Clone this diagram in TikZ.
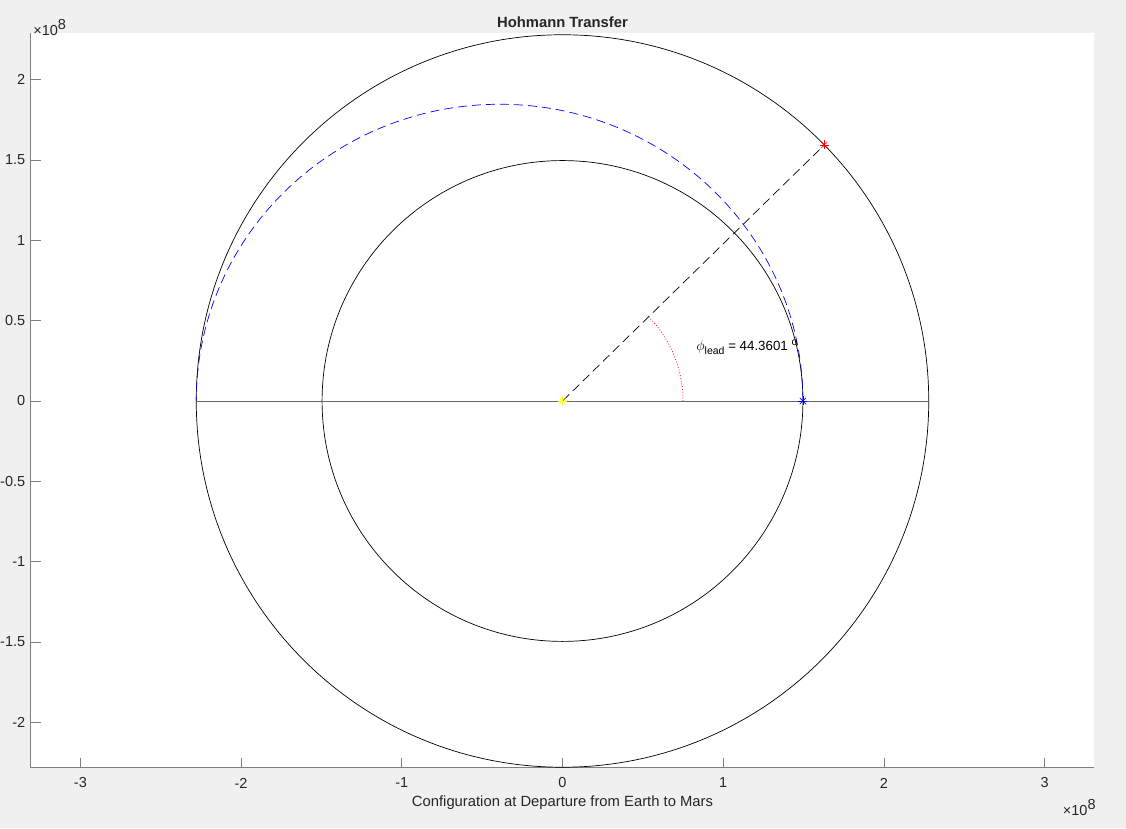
\documentclass[tikz,border=0pt]{standalone}
\usepackage{fontspec}
\setmainfont{Liberation Sans}
\usepackage{tikz}
\usetikzlibrary{calc}
\definecolor{figbg}{HTML}{F0F0F0}
\definecolor{axgray}{HTML}{7F7F7F}
\definecolor{txtgray}{HTML}{262626}
\definecolor{mblue}{HTML}{0000FF}
\definecolor{myellow}{HTML}{FFFF00}

\begin{document}
\begin{tikzpicture}[x=160.7pt, y=160.7pt, line width=0.7pt,
  main node/.style={inner sep=0pt, minimum size=0pt},
  tick label/.style={font=\fontsize{14.5}{16}\selectfont, text=txtgray, inner sep=0pt},
  orbit/.style={black, line width=0.7pt},
  mdash/.style={dash pattern=on 9pt off 5pt, line width=0.7pt}]
\useasboundingbox[fill=figbg] (-3.5003,-2.6572) rectangle (3.5065,2.4953);
% axes
\coordinate (ax sw) at (-3.31,-2.282);
\coordinate (ax nw) at (-3.31,2.287);
\coordinate (ax se) at (3.31,-2.282);
\coordinate (ax ne) at (3.31,2.287);
\fill[white] (ax sw) rectangle (ax ne);
\foreach \x in {-3,...,3}{
  \draw[axgray] (\x,-2.282) -- ++(0,10pt);
  \node[tick label] at (\x,-2.377) {\x};
}
\foreach \y in {-2,-1.5,-1,-0.5,0,0.5,1,1.5,2}{
  \draw[axgray] (-3.31,\y) -- ++(10pt,0);
  \node[tick label, anchor=east] at ([xshift=-5pt]-3.31,\y) {\y};
}
\draw[axgray] (ax nw) -- (ax sw) -- (ax se);
\node[tick label, anchor=west] at (-3.295,2.322) {×10\raisebox{6pt}{8}};
\node[tick label, anchor=west] at (3.112,-2.528) {×10\raisebox{6pt}{8}};
\node[tick label, font=\fontsize{14.8}{16}\bfseries] (title) at (0,2.358) {Hohmann Transfer};
\node[tick label, font=\fontsize{14.8}{16}\selectfont] (xlab) at (0,-2.502) {Configuration at Departure from Earth to Mars};

% bodies
\node[main node] (sun) at (0,0) {};
\node[main node] (earth) at (1.496,0) {};
\node[main node] (mars) at (44.36:2.279) {};
\coordinate (west) at (-2.279,0);
\coordinate (east) at (2.279,0);

% orbits
\draw[orbit] (sun) circle[radius=1.496];
\draw[orbit] (sun) circle[radius=2.279];
\draw[black!60, line width=0.9pt] (west) -- (east);
\draw[mblue, mdash] (earth.center) arc[start angle=0, end angle=180, x radius=1.8875, y radius=1.8465];
\path (sun) edge[black, mdash] (mars);
\draw[red, dotted, line width=0.8pt] (0.75,0) arc[start angle=0, end angle=44.36, radius=0.75];
\node[tick label, anchor=west, text=black, font=\fontsize{13.3}{15}\selectfont] (lead) at (0.831,0.336)
  {$\phi$\raisebox{-4pt}{\fontsize{10.5}{11}\selectfont lead} = 44.3601 \raisebox{5pt}{\fontsize{10.5}{11}\selectfont o}};

% markers
\foreach \n/\c in {sun/myellow,earth/mblue,mars/red}
  \foreach \a in {0,45,...,315}
    \draw[\c, line width=0.6pt] (\n.center) -- ++(\a:4.5pt);
\end{tikzpicture}
\end{document}
